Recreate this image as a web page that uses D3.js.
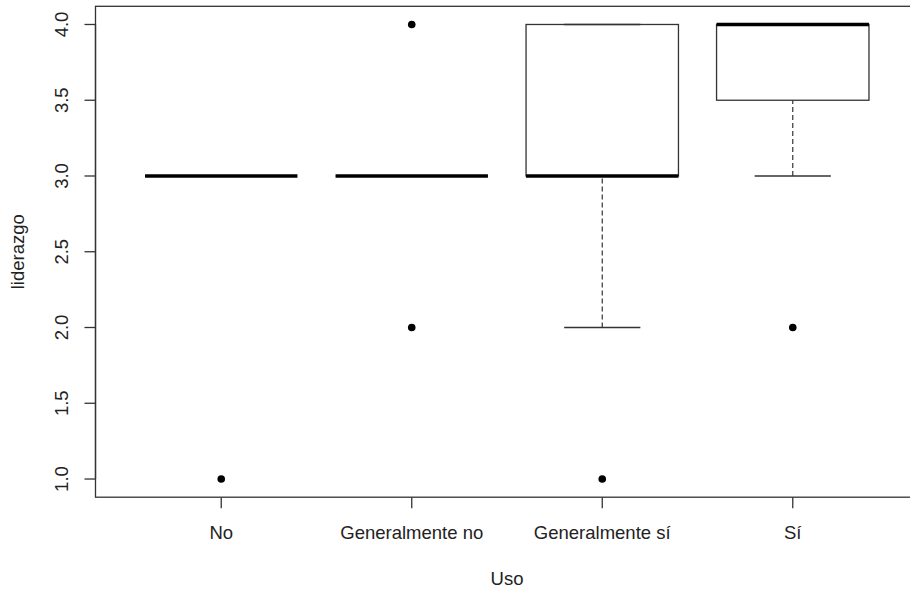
<!DOCTYPE html>
<html><head><meta charset="utf-8">
<script src="https://cdn.jsdelivr.net/npm/d3@7/dist/d3.min.js"></script>
<style>body{margin:0;background:#fff}svg{display:block}text{font-family:"Liberation Sans",Arial,sans-serif;fill:#222}</style>
</head><body><svg id="c" width="910" height="595"></svg>
<script>
const categories = ["No", "Generalmente no", "Generalmente sí", "Sí"];
const lowerWhisker = [3, 3, 2, 3];
const q1 = [3, 3, 3, 3.5];
const median = [3, 3, 3, 4];
const q3 = [3, 3, 4, 4];
const upperWhisker = [3, 3, 4, 4];
const outliers = [[1], [4, 2], [1], [2]];
const yTicks = [1.0, 1.5, 2.0, 2.5, 3.0, 3.5, 4.0];
const xTitle = "Uso", yTitle = "liderazgo";

const svg = d3.select("#c");
const L = 95.5, R = 918.5, T = 6.3, B = 497.2;
const x = d3.scaleLinear().domain([0.34, 4.66]).range([L, R]);
const y = d3.scaleLinear().domain([0.88, 4.12]).range([B, T]);
const col = "#333";
const bw = 0.4; // half box width in data units

const g = svg.append("g");
categories.forEach((c, i) => {
  const cx = i + 1;
  g.append("line").attr("x1", x(cx)).attr("x2", x(cx)).attr("y1", y(lowerWhisker[i])).attr("y2", y(q1[i]))
    .attr("stroke", col).attr("stroke-dasharray", "5,3").attr("stroke-width", 1.2);
  g.append("line").attr("x1", x(cx)).attr("x2", x(cx)).attr("y1", y(upperWhisker[i])).attr("y2", y(q3[i]))
    .attr("stroke", col).attr("stroke-dasharray", "5,3").attr("stroke-width", 1.2);
  [lowerWhisker[i], upperWhisker[i]].forEach(v => {
    g.append("line").attr("x1", x(cx - bw / 2)).attr("x2", x(cx + bw / 2)).attr("y1", y(v)).attr("y2", y(v))
      .attr("stroke", col).attr("stroke-width", 1.3);
  });
  g.append("rect").attr("x", x(cx - bw)).attr("width", x(cx + bw) - x(cx - bw))
    .attr("y", y(q3[i])).attr("height", y(q1[i]) - y(q3[i]))
    .attr("fill", "none").attr("stroke", col).attr("stroke-width", 1.3);
  g.append("line").attr("x1", x(cx - bw)).attr("x2", x(cx + bw)).attr("y1", y(median[i])).attr("y2", y(median[i]))
    .attr("stroke", "#000").attr("stroke-width", 3.5);
  outliers[i].forEach(v => {
    g.append("circle").attr("cx", x(cx)).attr("cy", y(v)).attr("r", 3.8).attr("fill", "#000");
  });
});

svg.append("rect").attr("x", L).attr("y", T).attr("width", R - L).attr("height", B - T)
  .attr("fill", "none").attr("stroke", col).attr("stroke-width", 1.3);

const ya = svg.append("g");
ya.append("line").attr("x1", L).attr("x2", L).attr("y1", y(yTicks[0])).attr("y2", y(yTicks[yTicks.length - 1])).attr("stroke", col).attr("stroke-width", 1.3);
yTicks.forEach(t => {
  ya.append("line").attr("x1", L - 11).attr("x2", L).attr("y1", y(t)).attr("y2", y(t)).attr("stroke", col).attr("stroke-width", 1.3);
  ya.append("text").attr("transform", `translate(68,${y(t)}) rotate(-90)`).attr("text-anchor", "middle")
    .attr("font-size", 18.5).text(d3.format(".1f")(t));
});
categories.forEach((c, i) => {
  svg.append("line").attr("x1", x(i + 1)).attr("x2", x(i + 1)).attr("y1", B).attr("y2", B + 11).attr("stroke", col).attr("stroke-width", 1.3);
  svg.append("text").attr("x", x(i + 1)).attr("y", 539).attr("text-anchor", "middle").attr("font-size", 18.5).text(c);
});
svg.append("text").attr("x", x(2.5)).attr("y", 585).attr("text-anchor", "middle").attr("font-size", 18.5).text(xTitle);
svg.append("text").attr("transform", `translate(24,${(T + B) / 2}) rotate(-90)`).attr("text-anchor", "middle").attr("font-size", 18.5).text(yTitle);
</script></body></html>
